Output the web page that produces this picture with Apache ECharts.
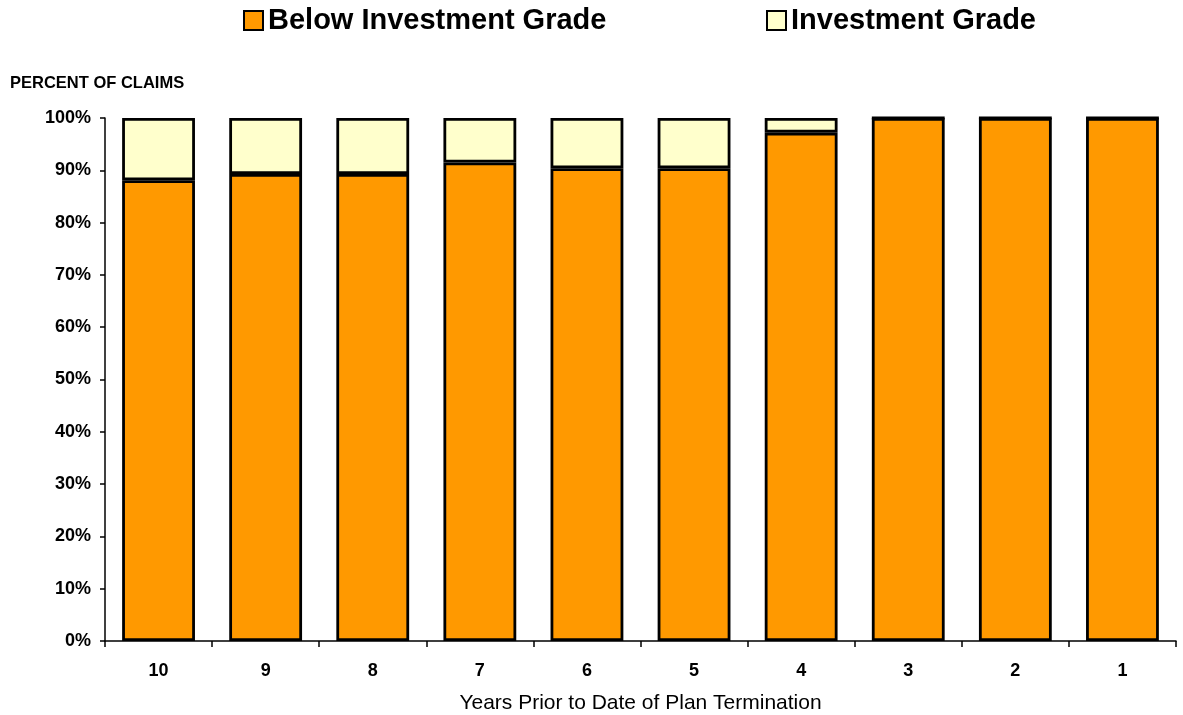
<!DOCTYPE html>
<html>
<head>
<meta charset="utf-8">
<script src="https://cdn.jsdelivr.net/npm/echarts@6/dist/echarts.min.js"></script>
<style>
html,body{margin:0;padding:0;background:#fff;}
#chart{width:1183px;height:715px;}
</style>
</head>
<body>
<div id="chart"></div>
<script>
const categories = ['10','9','8','7','6','5','4','3','2','1'];
const belowInvestmentGrade = [88.1, 89.3, 89.3, 91.5, 90.4, 90.4, 97.2, 100, 100, 100];
const investmentGrade = [11.9, 10.7, 10.7, 8.5, 9.6, 9.6, 2.8, 0, 0, 0];
const yTicks = [0,10,20,30,40,50,60,70,80,90,100];

const chart = echarts.init(document.getElementById('chart'));
const font = 'Arial, "Liberation Sans", sans-serif';
chart.setOption({
  animation: false,
  textStyle: { fontFamily: font },
  title: {
    text: 'PERCENT OF CLAIMS',
    left: 10, top: 75, padding: 0,
    textStyle: { fontSize: 16.5, fontWeight: 'bold', color: '#000', fontFamily: font }
  },
  legend: [
    {
      data: ['Below Investment Grade'],
      left: 243, top: 6, padding: 0,
      itemWidth: 19, itemHeight: 19, itemGap: 6,
      icon: 'rect',
      textStyle: { fontSize: 29, fontWeight: 'bold', color: '#000', fontFamily: font }
    },
    {
      data: ['Investment Grade'],
      left: 766, top: 6, padding: 0,
      itemWidth: 19, itemHeight: 19, itemGap: 6,
      icon: 'rect',
      textStyle: { fontSize: 29, fontWeight: 'bold', color: '#000', fontFamily: font }
    }
  ],
  grid: { left: 105, right: 7, top: 118, bottom: 74, containLabel: false, outerBoundsMode: 'none' },
  xAxis: {
    type: 'category',
    data: categories,
    name: 'Years Prior to Date of Plan Termination',
    nameLocation: 'middle',
    nameGap: 52,
    nameTextStyle: { fontSize: 21, color: '#000', fontFamily: font },
    axisLine: { lineStyle: { color: '#000', width: 1.5 } },
    axisTick: { show: true, alignWithLabel: false, length: 6, lineStyle: { color: '#000', width: 1.5 } },
    axisLabel: { fontSize: 18, fontWeight: 'bold', color: '#000', margin: 21 }
  },
  yAxis: {
    type: 'value',
    min: 0, max: 100, interval: 10,
    axisLine: { show: true, lineStyle: { color: '#000', width: 1.5 } },
    axisTick: { show: true, inside: false, length: 5, lineStyle: { color: '#000', width: 1.5 } },
    splitLine: { show: false },
    axisLabel: { fontSize: 18, fontWeight: 'bold', color: '#000', margin: 14,
      formatter: v => yTicks.includes(v) ? v + '%' : '' }
  },
  series: [
    {
      name: 'Below Investment Grade',
      type: 'bar',
      stack: 'total',
      data: belowInvestmentGrade,
      barCategoryGap: '32%',
      itemStyle: { color: '#FF9900', borderColor: '#000', borderWidth: 2.8 }
    },
    {
      name: 'Investment Grade',
      type: 'bar',
      stack: 'total',
      data: investmentGrade,
      barCategoryGap: '32%',
      itemStyle: { color: '#FFFFCC', borderColor: '#000', borderWidth: 2.8 }
    }
  ]
});
</script>
</body>
</html>
